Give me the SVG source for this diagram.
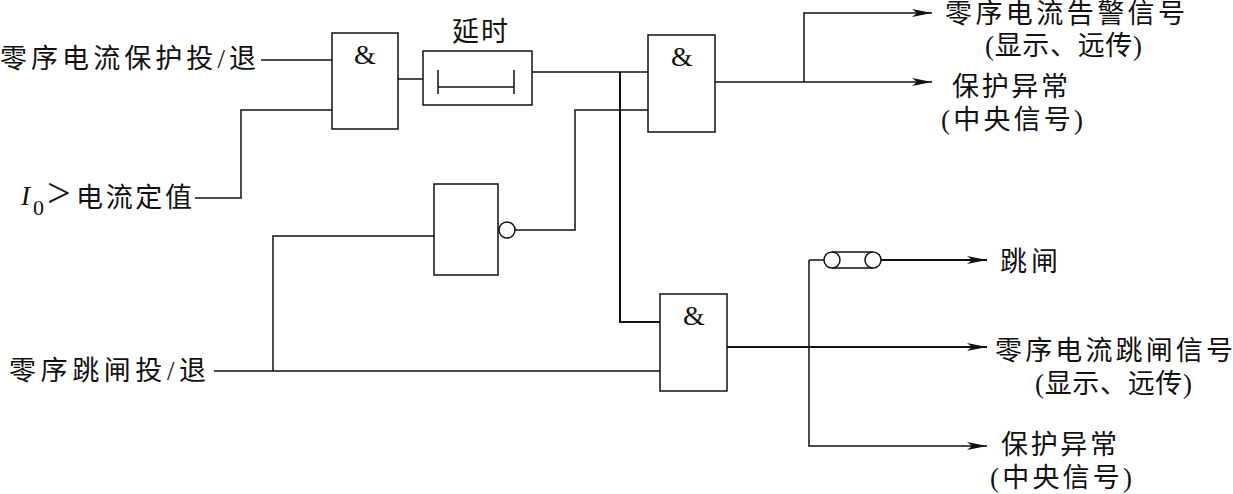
<svg xmlns="http://www.w3.org/2000/svg" width="1233" height="494" viewBox="0 0 1233 494">
<style>
text{font-family:"Liberation Serif","Noto Sans CJK SC",serif;font-size:27px;fill:#111}
.m{text-anchor:middle}
.b{fill:#fff;stroke:#111;stroke-width:1.5}
.w{fill:none;stroke:#111;stroke-width:1.5}
.h{stroke-width:2}
.amp{font-size:28px}
</style>
<defs><marker id="ah" markerUnits="userSpaceOnUse" markerWidth="22" markerHeight="10" refX="20" refY="5" orient="auto"><path d="M0 1L20 5L0 9L5 5Z" fill="#111"/></marker></defs>
<g id="connectors">
<path class="w" d="M261 60H332"/>
<path class="w" d="M195 198H241V110H332"/>
<path class="w" d="M398 79H423"/>
<path class="w" d="M532 72H648"/>
<path class="w" d="M515 230H575V110H648"/>
<path class="w h" d="M620 72V322H660"/>
<path class="w" d="M214 371H660"/>
<path class="w" d="M273 371V236H434"/>
<path class="w" d="M715 82H932" marker-end="url(#ah)"/>
<path class="w" d="M804 82V13H932" marker-end="url(#ah)"/>
<path class="w h" d="M727 347H987" marker-end="url(#ah)"/>
<path class="w" d="M809 260V446H987" marker-end="url(#ah)"/>
<path class="w" d="M809 260H824"/>
<path class="w h" d="M881 260H987" marker-end="url(#ah)"/>
</g>
<g id="and1"><rect class="b" x="332" y="33" width="66" height="96"/><text class="m amp" x="365" y="64">&amp;</text></g>
<g id="delay"><text x="452" y="41" textLength="56">延时</text><rect class="b" x="423" y="51" width="109" height="54"/><path class="w" d="M438 70V94M514 70V94M438 87H514"/></g>
<g id="and2"><rect class="b" x="648" y="35" width="67" height="97"/><text class="m amp" x="682" y="66">&amp;</text></g>
<g id="not"><rect class="b" x="434" y="184" width="64" height="91"/><circle class="b" cx="507" cy="230" r="8"/></g>
<g id="and3"><rect class="b" x="660" y="294" width="67" height="97"/><text class="m amp" x="694" y="325">&amp;</text></g>
<g id="switch"><path class="w" d="M832 252H873M832 268H873"/><circle class="b" cx="832" cy="260" r="8"/><circle class="b" cx="873" cy="260" r="8"/></g>
<g id="labels">
<text x="0" y="68" textLength="256">零序电流保护投/退</text>
<text x="21" y="205" style="font-style:italic;font-size:27px">I</text><text x="33" y="215" style="font-size:22px">0</text><text x="47" y="207" style="font-size:42px">&gt;</text><text x="76" y="207" textLength="116">电流定值</text>
<text x="9" y="380" textLength="197">零序跳闸投/退</text>
<text x="945" y="23" textLength="240">零序电流告警信号</text>
<text x="985" y="55" textLength="157">(显示、远传)</text>
<text x="952" y="96" textLength="116">保护异常</text>
<text x="941" y="129" textLength="142">(中央信号)</text>
<text x="1000" y="271" textLength="58">跳闸</text>
<text x="995" y="360" textLength="238">零序电流跳闸信号</text>
<text x="1035" y="393" textLength="157">(显示、远传)</text>
<text x="1001" y="454" textLength="116">保护异常</text>
<text x="990" y="487" textLength="142">(中央信号)</text>
</g>
</svg>
